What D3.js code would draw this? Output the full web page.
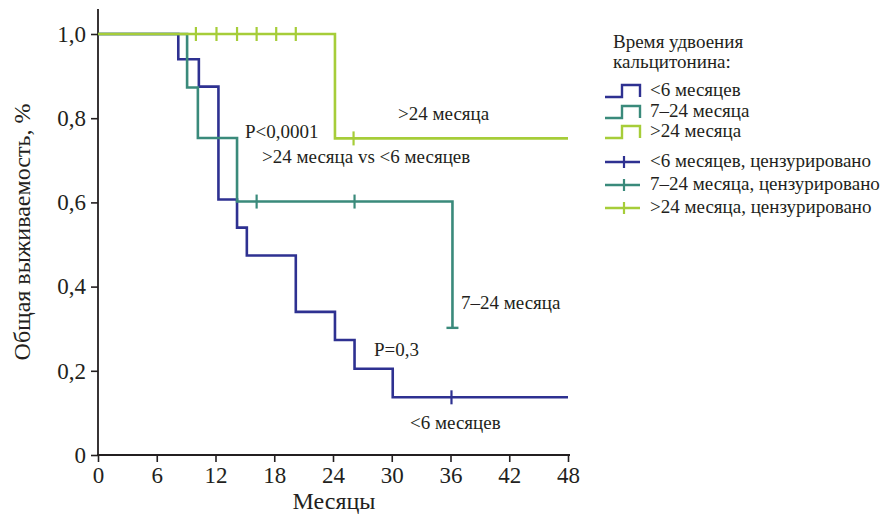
<!DOCTYPE html>
<html><head><meta charset="utf-8">
<script src="https://cdn.jsdelivr.net/npm/d3@7"></script>
<style>
body{margin:0;background:#fff;}
text{font-family:"Liberation Serif","DejaVu Serif",serif;fill:#231f20;}
</style></head>
<body><svg id="c" width="882" height="514"></svg>
<script>
const xTicks = [0, 6, 12, 18, 24, 30, 36, 42, 48];
const yTicks = [0, 0.2, 0.4, 0.6, 0.8, 1.0];
const yTickLabels = ["0", "0,2", "0,4", "0,6", "0,8", "1,0"];

const groups = ["<6 месяцев", "7–24 месяца", ">24 месяца"];
const colors = ["#2e3191", "#3a8a7b", "#a6cd39"];

const blueTimes = [0, 8.2, 10.3, 12.3, 14.2, 15.2, 20.2, 24.2, 26.2, 30.1, 48];
const blueSurv  = [1, 0.94, 0.875, 0.607, 0.54, 0.474, 0.34, 0.273, 0.205, 0.137, 0.137];
const tealTimes = [0, 9.1, 10.2, 14.2, 36.2];
const tealSurv  = [1, 0.873, 0.753, 0.602, 0.302];
const greenTimes = [0, 24.2, 48];
const greenSurv  = [1, 0.752, 0.752];

const blueCensT = [36.1], blueCensS = [0.137];
const tealCensT = [16.2, 26.2], tealCensS = [0.602, 0.602];
const greenCensT = [10.0, 12.1, 14.2, 16.2, 18.2, 20.2, 26.1], greenCensS = [1, 1, 1, 1, 1, 1, 0.752];

const legendLabels = ["<6 месяцев", "7–24 месяца", ">24 месяца"];
const legendCensLabels = ["<6 месяцев, цензурировано", "7–24 месяца, цензурировано", ">24 месяца, цензурировано"];

const FONT = "'Liberation Serif', 'DejaVu Serif', serif";
const svg = d3.select("#c");
const x = d3.scaleLinear().domain([0, 48]).range([98, 568]);
const y = d3.scaleLinear().domain([0, 1]).range([455, 34]);

// axes
const ax = svg.append("g").attr("transform", "translate(0,455)")
  .call(d3.axisBottom(x).tickValues(xTicks).tickSize(7).tickPadding(5).tickFormat(d3.format("d")));
const ay = svg.append("g").attr("transform", "translate(98,0)")
  .call(d3.axisLeft(y).tickValues(yTicks).tickSize(7).tickPadding(5).tickFormat((d,i)=>yTickLabels[i]));
[ax, ay].forEach(g => {
  g.select(".domain").remove();
  g.selectAll("line").attr("stroke", "#231f20").attr("stroke-width", 1.6);
  g.selectAll("text").style("font-size", "23px").attr("fill", "#231f20")
   .style("font-family", FONT);
});
svg.append("line").attr("x1", 98).attr("x2", 98).attr("y1", 9).attr("y2", 456)
  .attr("stroke", "#231f20").attr("stroke-width", 1.8);
svg.append("line").attr("x1", 97).attr("x2", 570).attr("y1", 455).attr("y2", 455)
  .attr("stroke", "#231f20").attr("stroke-width", 1.8);

// curves
const line = d3.line().x(d => x(d[0])).y(d => y(d[1])).curve(d3.curveStepAfter);
const series = [
  {t: blueTimes, s: blueSurv, c: colors[0], ct: blueCensT, cs: blueCensS},
  {t: tealTimes, s: tealSurv, c: colors[1], ct: tealCensT, cs: tealCensS},
  {t: greenTimes, s: greenSurv, c: colors[2], ct: greenCensT, cs: greenCensS}
];
series.forEach(sr => {
  svg.append("path").datum(sr.t.map((t,i)=>[t, sr.s[i]]))
    .attr("d", line).attr("fill", "none").attr("stroke", sr.c).attr("stroke-width", 2.6);
});
series.forEach(sr => {
  sr.ct.forEach((t,i) => {
    svg.append("line").attr("x1", x(t)).attr("x2", x(t))
      .attr("y1", y(sr.cs[i]) - 7).attr("y2", y(sr.cs[i]) + 7)
      .attr("stroke", sr.c).attr("stroke-width", 2.2);
  });
});
// end cap of 7-24 curve
svg.append("line").attr("x1", x(tealTimes[4]) - 6).attr("x2", x(tealTimes[4]) + 6)
  .attr("y1", y(tealSurv[4])).attr("y2", y(tealSurv[4]))
  .attr("stroke", colors[1]).attr("stroke-width", 2.4);

// axis titles
svg.append("text").attr("x", 334).attr("y", 509).attr("text-anchor", "middle")
  .style("font-size", "24px").text("Месяцы");
svg.append("text").attr("transform", "translate(30,232) rotate(-90)").attr("text-anchor", "middle")
  .style("font-size", "24px").text("Общая выживаемость, %");

// annotations
const ann = [
  {x: 245, y: 138, t: "P<0,0001"},
  {x: 262, y: 163, t: ">24 месяца vs <6 месяцев"},
  {x: 398, y: 120, t: ">24 месяца"},
  {x: 461, y: 309, t: "7–24 месяца"},
  {x: 374, y: 356, t: "P=0,3"},
  {x: 410, y: 429, t: "<6 месяцев"}
];
ann.forEach(a => svg.append("text").attr("x", a.x).attr("y", a.y).style("font-size", "19px").text(a.t));

// legend
svg.append("text").attr("x", 613).attr("y", 48).style("font-size", "19px").text("Время удвоения");
svg.append("text").attr("x", 613).attr("y", 68).style("font-size", "19px").text("кальцитонина:");
const rowTop = [85, 106, 126];
rowTop.forEach((ty, i) => {
  svg.append("path").attr("d", `M605,${ty+12}H622V${ty}H640V${ty+12}`)
    .attr("fill", "none").attr("stroke", colors[i]).attr("stroke-width", 2.4);
  svg.append("text").attr("x", 650).attr("y", ty + 11).style("font-size", "19px").text(legendLabels[i]);
});
const censY = [162, 185, 208];
censY.forEach((cy, i) => {
  svg.append("line").attr("x1", 605).attr("x2", 640).attr("y1", cy).attr("y2", cy)
    .attr("stroke", colors[i]).attr("stroke-width", 2.4);
  svg.append("line").attr("x1", 624).attr("x2", 624).attr("y1", cy - 6).attr("y2", cy + 6)
    .attr("stroke", colors[i]).attr("stroke-width", 2.2);
  svg.append("text").attr("x", 650).attr("y", cy + 5).style("font-size", "19px").text(legendCensLabels[i]);
});
</script></body></html>
